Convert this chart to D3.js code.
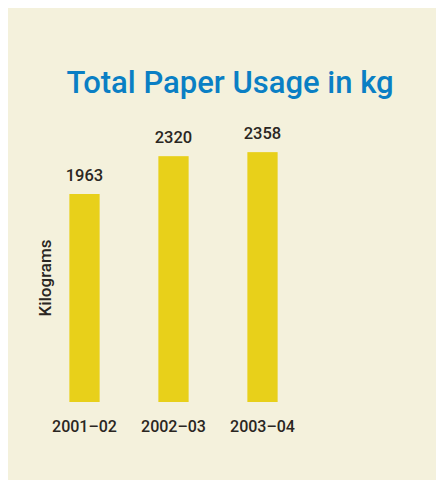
<!DOCTYPE html>
<html>
<head>
<meta charset="utf-8">
<script src="https://cdn.jsdelivr.net/npm/d3@7"></script>
<style>
  html, body { margin: 0; padding: 0; background: #ffffff; }
  svg { display: block; }
</style>
</head>
<body>
<script>
// Paper usage per financial year, in kilograms
const years = ["2001\u201302", "2002\u201303", "2003\u201304"];
const usageKg = [1963, 2320, 2358];
const titleText = "Total Paper Usage in kg";
const axisLabel = "Kilograms";

const W = 437, H = 488;
const svg = d3.select("body").append("svg").attr("width", W).attr("height", H);

// cream panel
svg.append("rect")
  .attr("x", 8).attr("y", 8).attr("width", 428).attr("height", 472)
  .attr("fill", "#f4f1dc");

svg.append("text")
  .attr("x", 230).attr("y", 93)
  .attr("text-anchor", "middle")
  .attr("font-family", "Roboto, 'DejaVu Sans', sans-serif")
  .attr("font-weight", 500)
  .attr("font-size", 31)
  .attr("fill", "#0a7fc4")
  .text(titleText);

const baseline = 402;
const x = d3.scaleBand().domain(years).range([40, 307]).paddingInner(0.66).paddingOuter(0.33);
const y = d3.scaleLinear().domain([0, 1963]).range([baseline, 194]);

const g = svg.append("g");

g.selectAll("rect.bar")
  .data(usageKg)
  .join("rect")
  .attr("class", "bar")
  .attr("x", (d, i) => x(years[i]))
  .attr("width", x.bandwidth())
  .attr("y", d => y(d))
  .attr("height", d => baseline - y(d))
  .attr("fill", "#e8d01a");

g.selectAll("text.val")
  .data(usageKg)
  .join("text")
  .attr("class", "val")
  .attr("x", (d, i) => x(years[i]) + x.bandwidth() / 2)
  .attr("y", d => y(d) - 13)
  .attr("text-anchor", "middle")
  .attr("font-family", "Roboto, 'DejaVu Sans', sans-serif")
  .attr("font-weight", 500)
  .attr("font-size", 16.5)
  .attr("fill", "#2a2622")
  .text(d => d);

// category axis without domain line or ticks
const xAxis = svg.append("g")
  .attr("transform", `translate(0,${baseline})`)
  .call(d3.axisBottom(x).tickSize(0).tickPadding(19));
xAxis.select(".domain").remove();
xAxis.selectAll("text")
  .attr("font-family", "Roboto, 'DejaVu Sans', sans-serif")
  .attr("font-weight", 500)
  .attr("font-size", 16)
  .attr("fill", "#2a2622");

svg.append("text")
  .attr("transform", "translate(51,278) rotate(-90)")
  .attr("text-anchor", "middle")
  .attr("font-family", "Roboto, 'DejaVu Sans', sans-serif")
  .attr("font-weight", 500)
  .attr("font-size", 17)
  .attr("fill", "#2a2622")
  .text(axisLabel);
</script>
</body>
</html>
